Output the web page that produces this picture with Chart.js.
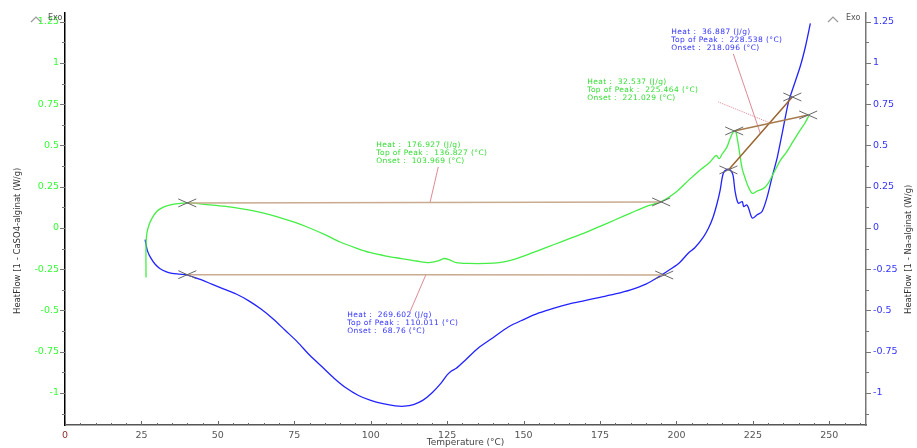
<!DOCTYPE html>
<html>
<head>
<meta charset="utf-8">
<script src="https://cdn.jsdelivr.net/npm/chart.js@4.4.1/dist/chart.umd.min.js"></script>
<style>
  html, body { margin: 0; padding: 0; background: #fff; }
</style>
</head>
<body>
<canvas id="dsc" width="917" height="448"></canvas>
<script>
// HeatFlow 1 - CaSO4-alginat (gruen, linke Achse)
const caso4Temp = [26.5, 26.5, 26.8, 27.5, 28.5, 30, 32, 34.5, 37, 40, 45, 50, 55, 60, 65, 70, 75, 80, 85, 90, 95, 100, 105, 110, 115, 119, 122, 124, 126, 128, 132, 138, 142, 146, 150, 155, 160, 165, 170, 175, 180, 185, 190, 195, 200, 204, 207, 209, 211, 213, 214, 215, 216.5, 217.5, 218.5, 219.3, 220, 220.7, 221.5, 222.5, 223.5, 224.8, 226.5, 228.5, 230, 232, 234, 236, 238, 240, 242, 243.3];
const caso4Flow = [-0.30, -0.10, -0.03, 0.02, 0.06, 0.10, 0.125, 0.14, 0.148, 0.152, 0.145, 0.135, 0.125, 0.11, 0.09, 0.065, 0.035, 0.0, -0.04, -0.085, -0.12, -0.15, -0.17, -0.185, -0.2, -0.21, -0.2, -0.185, -0.195, -0.21, -0.215, -0.215, -0.21, -0.195, -0.17, -0.135, -0.1, -0.065, -0.03, 0.01, 0.05, 0.09, 0.13, 0.16, 0.22, 0.29, 0.34, 0.37, 0.40, 0.44, 0.42, 0.45, 0.49, 0.54, 0.58, 0.59, 0.53, 0.45, 0.36, 0.30, 0.25, 0.21, 0.225, 0.24, 0.27, 0.34, 0.41, 0.46, 0.52, 0.58, 0.635, 0.68];

// HeatFlow 1 - Na-alginat (blau, rechte Achse)
const naTemp = [26.2, 26.5, 27, 28, 29.5, 31, 33, 35, 37.5, 40, 44, 48, 52, 56, 60, 64, 68, 72, 76, 80, 84, 88, 92, 96, 100, 104, 108, 111, 114, 117, 120, 123, 125, 126.5, 128, 131, 135, 140, 145, 150, 155, 160, 165, 170, 175, 180, 185, 190, 194.7, 198, 201, 204, 206, 208.8, 210.5, 212, 213.3, 214.3, 215.3, 216.5, 217.7, 218.5, 219.2, 220.2, 221.5, 222, 223, 223.6, 224.8, 226.4, 228, 229.7, 231.3, 233, 234.6, 236.6, 237.8, 240.5, 242.2, 243.8];
const naFlow = [-0.07, -0.10, -0.14, -0.18, -0.22, -0.245, -0.265, -0.275, -0.28, -0.285, -0.31, -0.34, -0.37, -0.40, -0.44, -0.49, -0.55, -0.62, -0.69, -0.77, -0.84, -0.91, -0.97, -1.015, -1.045, -1.065, -1.078, -1.08, -1.07, -1.045, -1.0, -0.94, -0.89, -0.865, -0.85, -0.80, -0.73, -0.665, -0.60, -0.555, -0.515, -0.485, -0.46, -0.44, -0.42, -0.40, -0.375, -0.34, -0.29, -0.25, -0.21, -0.15, -0.12, -0.055, 0.0, 0.067, 0.15, 0.23, 0.33, 0.355, 0.35, 0.32, 0.22, 0.15, 0.16, 0.13, 0.14, 0.12, 0.06, 0.08, 0.10, 0.19, 0.31, 0.43, 0.575, 0.76, 0.83, 0.98, 1.1, 1.24];

// Basislinien der Peaks
const caso4BaseTemp = [40, 195];
const caso4BaseFlow = [0.152, 0.158];
const naBaseTemp = [40, 196];
const naBaseFlow = [-0.283, -0.285];
const caso4Base2Temp = [218.9, 243.1];
const caso4Base2Flow = [0.588, 0.685];
const naBase2Temp = [217, 237.9];
const naBase2Flow = [0.352, 0.794];

// Hinweislinien zu den Texten
const leadCaso4Temp = [122.1, 119.4];
const leadCaso4Flow = [0.37, 0.155];
const leadNaTemp = [118, 112.8];
const leadNaFlow = [-0.285, -0.51];
const leadNa2Temp = [218.6, 227.4];
const leadNa2Flow = [1.055, 0.575];
const leadCaso42Temp = [213.7, 230.7];
const leadCaso42Flow = [0.764, 0.636];

// Kreuze an den Integrationsgrenzen
const markerTemp = [40, 195, 40, 196, 218.9, 243.1, 217, 237.9];
const markerFlow = [0.152, 0.158, -0.283, -0.285, 0.588, 0.685, 0.352, 0.794];

// Peak-Texte
const noteTemp = [101.8, 92.3, 170.8, 198.3];
const noteFlow = [0.503, -0.527, 0.885, 1.188];
const noteColor = ['#33dd33', '#3333ff', '#33dd33', '#3333ff'];
const noteLines = [
    ['Heat :  176.927 (J/g)', 'Top of Peak :  136.827 (°C)', 'Onset :  103.969 (°C)'],
    ['Heat :  269.602 (J/g)', 'Top of Peak :  110.011 (°C)', 'Onset :  68.76 (°C)'],
    ['Heat :  32.537 (J/g)', 'Top of Peak :  225.464 (°C)', 'Onset :  221.029 (°C)'],
    ['Heat :  36.887 (J/g)', 'Top of Peak :  228.538 (°C)', 'Onset :  218.096 (°C)']
];

const xTitle = 'Temperature (°C)';
const yTitleLeft = 'HeatFlow [1 - CaSO4-alginat (W/g)';
const yTitleRight = 'HeatFlow [1 - Na-alginat (W/g)';

function pts(xs, ys) {
    return xs.map((x, i) => ({x: x, y: ys[i]}));
}

function line(xs, ys, color, width, axis, dash) {
    return {
        data: pts(xs, ys),
        borderColor: color,
        borderWidth: width,
        borderDash: dash || [],
        pointRadius: 0,
        tension: 0.3,
        fill: false,
        yAxisID: axis
    };
}

Chart.defaults.font.family = '"DejaVu Sans", sans-serif';

const fmt = v => String(+v.toFixed(3));

// Achsen-Striche, Achsentitel, Exo-Zeichen, Kreuze und Texte
const deco = {
    id: 'deco',
    afterDatasetsDraw(chart) {
        const {ctx, scales} = chart;
        const x = scales.x, y = scales.y;
        ctx.save();
        ctx.strokeStyle = '#666';
        ctx.lineWidth = 1;
        markerTemp.forEach((t, i) => {
            const px = x.getPixelForValue(t), py = y.getPixelForValue(markerFlow[i]);
            ctx.beginPath();
            ctx.moveTo(px - 9, py - 4); ctx.lineTo(px + 9, py + 4);
            ctx.moveTo(px - 9, py + 4); ctx.lineTo(px + 9, py - 4);
            ctx.stroke();
        });
        ctx.font = '7.5px "DejaVu Sans"';
        ctx.letterSpacing = '0.4px';
        ctx.textBaseline = 'middle';
        ctx.textAlign = 'left';
        noteLines.forEach((lines, i) => {
            const px = x.getPixelForValue(noteTemp[i]), py = y.getPixelForValue(noteFlow[i]);
            ctx.fillStyle = noteColor[i];
            lines.forEach((s, k) => ctx.fillText(s, px, py + k * 8.2));
        });
        ctx.restore();
    },
    afterDraw(chart) {
        const {ctx, chartArea: a, scales} = chart;
        const x = scales.x, y = scales.y;
        ctx.save();
        ctx.lineWidth = 1;
        // y Striche links und rechts
        for (let i = -9; i <= 10; i++) {
            const py = Math.round(y.getPixelForValue(i * 0.125)) + 0.5;
            const len = i % 2 === 0 ? 5 : 3;
            ctx.strokeStyle = '#777';
            ctx.beginPath(); ctx.moveTo(a.left - len, py); ctx.lineTo(a.left, py); ctx.stroke();
            ctx.beginPath(); ctx.moveTo(a.right, py); ctx.lineTo(a.right + len, py); ctx.stroke();
        }
        // x Striche nach innen
        ctx.strokeStyle = '#666';
        for (let t = 0; t <= 260; t += 5) {
            const px = Math.round(x.getPixelForValue(t)) + 0.5;
            const len = t % 25 === 0 ? 4 : 2;
            ctx.beginPath(); ctx.moveTo(px, a.bottom); ctx.lineTo(px, a.bottom - len); ctx.stroke();
        }
        // Achsentitel
        ctx.font = '8.5px "DejaVu Sans"';
        ctx.fillStyle = '#333';
        ctx.textBaseline = 'middle';
        ctx.textAlign = 'left';
        ctx.save();
        ctx.translate(18, 314);
        ctx.rotate(-Math.PI / 2);
        ctx.fillText(yTitleLeft, 0, 0);
        ctx.restore();
        ctx.save();
        ctx.translate(909, 314);
        ctx.rotate(-Math.PI / 2);
        ctx.fillText(yTitleRight, 0, 0);
        ctx.restore();
        // Exo
        ctx.strokeStyle = '#999';
        ctx.lineWidth = 1.2;
        [a.left - 29, a.right - 33].forEach(cx => {
            ctx.beginPath();
            ctx.moveTo(cx - 5, 22); ctx.lineTo(cx, 17); ctx.lineTo(cx + 5, 22);
            ctx.stroke();
        });
        ctx.font = '8px "DejaVu Sans"';
        ctx.fillStyle = '#555';
        ctx.fillText('Exo', a.left - 17, 18);
        ctx.fillText('Exo', a.right - 20, 18);
        ctx.restore();
    }
};

const ctx = document.getElementById('dsc').getContext('2d');

const myChart = new Chart(ctx, {
    type: 'line',
    data: {
        datasets: [
            line(caso4BaseTemp, caso4BaseFlow, '#c9ab90', 1.5, 'y'),
            line(naBaseTemp, naBaseFlow, '#c9ab90', 1.5, 'y'),
            line(caso4Base2Temp, caso4Base2Flow, '#a77a4c', 1.5, 'y'),
            line(naBase2Temp, naBase2Flow, '#9a6430', 1.5, 'y'),
            line(leadCaso4Temp, leadCaso4Flow, '#d46a78', 0.8, 'y'),
            line(leadNaTemp, leadNaFlow, '#d46a78', 0.8, 'y'),
            line(leadNa2Temp, leadNa2Flow, '#d46a78', 0.8, 'y'),
            line(leadCaso42Temp, leadCaso42Flow, '#d46a78', 0.8, 'y', [1, 1]),
            line(caso4Temp, caso4Flow, '#44ee44', 1.3, 'y'),
            line(naTemp, naFlow, '#2222ff', 1.3, 'y1')
        ]
    },
    options: {
        responsive: false,
        animation: false,
        devicePixelRatio: 1,
        layout: { padding: { top: 13 } },
        plugins: {
            legend: { display: false },
            tooltip: { enabled: false }
        },
        scales: {
            x: {
                type: 'linear',
                position: 'bottom',
                min: 0,
                max: 262,
                grid: { display: false, drawTicks: false },
                border: { display: true, color: '#555', width: 1.5 },
                ticks: {
                    stepSize: 25,
                    includeBounds: false,
                    padding: 5,
                    maxRotation: 0,
                    color: c => c.tick.value === 0 ? '#8b2e2e' : '#555',
                    font: { size: 9.5 }
                },
                title: {
                    display: true,
                    text: xTitle,
                    color: '#444',
                    font: { size: 9 },
                    padding: { top: 0, bottom: 0 }
                },
                afterFit: s => { s.height = 23; }
            },
            y: {
                position: 'left',
                min: -1.194,
                max: 1.303,
                grid: { display: false, drawTicks: false },
                border: { display: true, color: '#000', width: 1.5 },
                ticks: {
                    stepSize: 0.25,
                    includeBounds: false,
                    padding: 6,
                    color: '#33ff33',
                    font: { size: 9.5 },
                    callback: fmt
                },
                afterFit: s => { s.width = 65; }
            },
            y1: {
                position: 'right',
                min: -1.194,
                max: 1.303,
                grid: { display: false, drawTicks: false },
                border: { display: true, color: '#777', width: 1.5 },
                ticks: {
                    stepSize: 0.25,
                    includeBounds: false,
                    padding: 7,
                    color: '#3333ff',
                    font: { size: 9.5 },
                    callback: fmt
                },
                afterFit: s => { s.width = 51; }
            }
        }
    },
    plugins: [deco]
});
</script>
</body>
</html>
